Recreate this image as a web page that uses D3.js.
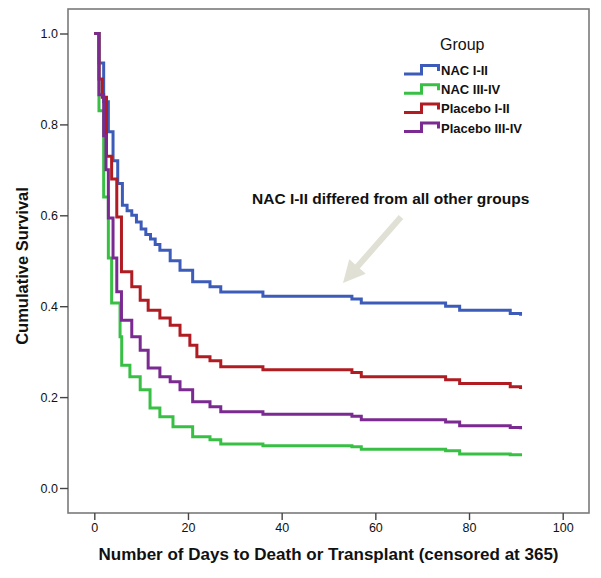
<!DOCTYPE html>
<html>
<head>
<meta charset="utf-8">
<script src="https://cdn.jsdelivr.net/npm/d3@7"></script>
<style>
  body { margin: 0; background: #fff; }
  text { font-family: "Liberation Sans", Arial, sans-serif; fill: #111; }
</style>
</head>
<body>
<script>
// group names and colours
var groupNames = ["NAC I-II", "NAC III-IV", "Placebo I-II", "Placebo III-IV"];
var groupColors = ["#3d5cba", "#38c045", "#b01c22", "#7a2a90"];

// step times (days) and survival values
var nacLowDays  = [0, 1, 2, 3, 4, 5, 6, 7, 8, 9, 10, 11, 12, 13, 14, 16.2, 18.3, 21, 24.7, 27, 36, 55, 57, 75, 78, 88.8, 91];
var nacLowSurv  = [1.0, 0.935, 0.85, 0.784, 0.72, 0.67, 0.622, 0.61, 0.60, 0.585, 0.57, 0.558, 0.548, 0.536, 0.523, 0.50, 0.479, 0.454, 0.443, 0.431, 0.422, 0.416, 0.407, 0.40, 0.391, 0.384, 0.379];

var nacHighDays = [0, 1, 2, 3, 3.7, 5.5, 5.85, 7.6, 9.8, 11.9, 14, 16.8, 21, 24.7, 27, 36, 55, 57, 75, 78, 88.8, 91];
var nacHighSurv = [1.0, 0.83, 0.64, 0.506, 0.407, 0.333, 0.27, 0.245, 0.216, 0.176, 0.157, 0.135, 0.113, 0.106, 0.097, 0.093, 0.091, 0.085, 0.082, 0.075, 0.073, 0.070];

var plcLowDays  = [0, 1, 1.7, 2.6, 3.7, 4.8, 5.8, 8, 9.8, 11.5, 14, 16.2, 18.3, 20.4, 21.9, 24.7, 27, 36, 55, 57, 75, 78, 88.8, 91];
var plcLowSurv  = [1.0, 0.90, 0.86, 0.73, 0.68, 0.596, 0.476, 0.443, 0.413, 0.391, 0.374, 0.358, 0.336, 0.314, 0.289, 0.28, 0.267, 0.26, 0.254, 0.245, 0.238, 0.23, 0.223, 0.218];

var plcHighDays = [0, 1, 2, 2.5, 3, 4, 4.8, 5.8, 8, 9.8, 11.5, 14, 16.2, 18.3, 21, 24.7, 27, 36, 55, 57, 75, 78, 88.8, 91];
var plcHighSurv = [1.0, 0.865, 0.775, 0.70, 0.594, 0.506, 0.432, 0.369, 0.333, 0.303, 0.264, 0.245, 0.234, 0.216, 0.19, 0.179, 0.168, 0.162, 0.158, 0.15, 0.145, 0.137, 0.133, 0.129];

var xTicks = [0, 20, 40, 60, 80, 100];
var yTicks = [0, 0.2, 0.4, 0.6, 0.8, 1.0];

var xTitle = "Number of Days to Death or Transplant (censored at 365)";
var yTitle = "Cumulative Survival";
var noteText = "NAC I-II differed from all other groups";

function main(){
	var width = 601, height = 578;
	// frame of the plot
	var box = {left : 68, top : 9, right : 589, bottom : 513};

	var svg = d3.select("body").append("svg")
		.attr("width", width)
		.attr("height", height);

	var x = d3.scaleLinear().domain([0, 100]).range([94.3, 562.7]);
	var y = d3.scaleLinear().domain([0, 1]).range([488, 33.5]);

	// frame
	svg.append("rect")
		.attr("x", box.left).attr("y", box.top)
		.attr("width", box.right - box.left).attr("height", box.bottom - box.top)
		.attr("fill", "none").attr("stroke", "#7a7a7a").attr("stroke-width", 1.6);

	// x axis (ticks below the frame)
	var xAxis = d3.axisBottom(x).tickValues(xTicks).tickSize(7).tickPadding(3)
		.tickFormat(d3.format("d"));
	var gx = svg.append("g").attr("transform", "translate(0," + box.bottom + ")").call(xAxis);
	gx.select(".domain").remove();
	gx.selectAll("line").attr("stroke", "#444").attr("stroke-width", 1.4);
	gx.selectAll("text").style("font-size", "12.5px").attr("fill", "#111");

	// y axis
	var yAxis = d3.axisLeft(y).tickValues(yTicks).tickSize(8).tickPadding(2)
		.tickFormat(d3.format(".1f"));
	var gy = svg.append("g").attr("transform", "translate(" + box.left + ",0)").call(yAxis);
	gy.select(".domain").remove();
	gy.selectAll("line").attr("stroke", "#444").attr("stroke-width", 1.4);
	gy.selectAll("text").style("font-size", "12.5px").attr("fill", "#111");

	// axis titles
	svg.append("text")
		.attr("x", (box.left + box.right) / 2).attr("y", 560)
		.attr("text-anchor", "middle")
		.style("font-size", "17px").style("font-weight", "bold")
		.text(xTitle);

	svg.append("text")
		.attr("transform", "translate(28,266) rotate(-90)")
		.attr("text-anchor", "middle")
		.style("font-size", "16.5px").style("font-weight", "bold")
		.text(yTitle);

	// survival curves
	var series = [
		{days : nacLowDays,  surv : nacLowSurv,  color : groupColors[0]},
		{days : nacHighDays, surv : nacHighSurv, color : groupColors[1]},
		{days : plcLowDays,  surv : plcLowSurv,  color : groupColors[2]},
		{days : plcHighDays, surv : plcHighSurv, color : groupColors[3]}
	];
	var line = d3.line()
		.x(function(d){return x(d[0]);})
		.y(function(d){return y(d[1]);})
		.curve(d3.curveStepAfter);

	svg.selectAll(".curve").data(series).enter().append("path")
		.attr("class", "curve")
		.attr("d", function(s){return line(s.days.map(function(d,i){return [d, s.surv[i]];}));})
		.attr("fill", "none")
		.attr("stroke", function(s){return s.color;})
		.attr("stroke-width", 3);

	// legend
	svg.append("text")
		.attr("x", 440).attr("y", 50)
		.style("font-size", "16px")
		.text("Group");

	var leg = svg.selectAll(".leg").data(groupNames).enter().append("g")
		.attr("class", "leg")
		.attr("transform", function(d,i){return "translate(0," + (75 + i*19.2) + ")";});
	leg.append("path")
		.attr("d", "M404,-1 H421.5 V-9.5 H438.5 V-4")
		.attr("fill", "none")
		.attr("stroke", function(d,i){return groupColors[i];})
		.attr("stroke-width", 3);
	leg.append("text")
		.attr("x", 441).attr("y", 0)
		.style("font-size", "13px").style("font-weight", "bold")
		.text(function(d){return d;});

	// note and arrow
	svg.append("text")
		.attr("x", 252).attr("y", 204)
		.style("font-size", "15.5px").style("font-weight", "bold")
		.text(noteText);

	var tail = [401, 217], tip = [343, 283];
	var dx = tip[0] - tail[0], dy = tip[1] - tail[1];
	var len = Math.sqrt(dx*dx + dy*dy);
	var ux = dx/len, uy = dy/len, px = -uy, py = ux;
	var headLen = 22, headHalf = 11, shaftHalf = 3;
	var bx = tip[0] - ux*headLen, by = tip[1] - uy*headLen;
	var pts = [
		[tail[0] + px*shaftHalf, tail[1] + py*shaftHalf],
		[bx + px*shaftHalf, by + py*shaftHalf],
		[bx + px*headHalf, by + py*headHalf],
		tip,
		[bx - px*headHalf, by - py*headHalf],
		[bx - px*shaftHalf, by - py*shaftHalf],
		[tail[0] - px*shaftHalf, tail[1] - py*shaftHalf]
	];
	svg.append("polygon")
		.attr("points", pts.map(function(p){return p.join(",");}).join(" "))
		.attr("fill", "#e0e0d4");
}
main();
</script>
</body>
</html>
